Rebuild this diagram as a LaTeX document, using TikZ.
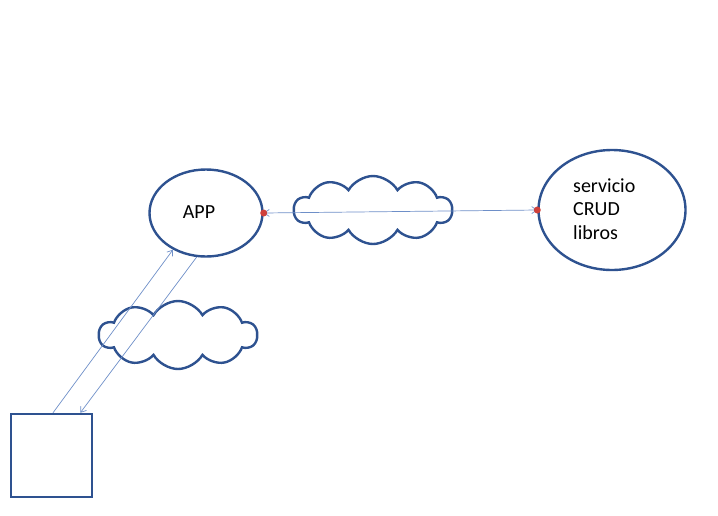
\documentclass[tikz,border=0pt]{standalone}
\usepackage{fontspec}
\setmainfont{Carlito}
\usetikzlibrary{shapes.geometric,shapes.symbols,arrows.meta}

\definecolor{shapeblue}{HTML}{2E5290}
\definecolor{linkblue}{HTML}{6E8FC8}
\definecolor{dotred}{HTML}{D0403A}

\tikzset{
  comp/.style={ellipse, draw=shapeblue, line width=2.4pt, inner sep=0pt},
  net/.style={cloud, cloud puffs=10, cloud puff arc=120, aspect=2.3,
    draw=shapeblue, line width=2.4pt, minimum width=158pt, minimum height=68pt},
  link/.style={draw=linkblue, line width=0.7pt},
  dot/.style={circle, fill=dotred, inner sep=0pt, minimum size=7pt},
}

\begin{document}
\begin{tikzpicture}[x=1pt, y=-1pt, font=\fontsize{20}{23.5}\selectfont]
  \useasboundingbox (0,0) rectangle (718,515);

  % components
  \node[comp, minimum width=113pt, minimum height=87pt] (app) at (206,213) {};
  \node (apptxt) at (199,212) {APP};
  \node[comp, minimum width=147pt, minimum height=120pt] (crud) at (612,210) {};
  \node[align=left, anchor=west, inner sep=0pt] (crudtxt) at (573,209) {servicio\\CRUD\\libros};
  \node[draw=shapeblue, line width=2.4pt, minimum width=81pt, minimum height=83pt] (client) at (51.5,455.5) {};

  % networks
  \node[net] (net1) at (373,210) {};
  \node[net] (net2) at (178,335) {};

  % links
  \draw[link, {Straight Barb[length=5pt,width=7pt]}-{Straight Barb[length=5pt,width=7pt]}] (app.east) -- (crud.west);
  \draw[link, -{Straight Barb[length=5pt,width=7pt]}] (client.88) -- (app.228);
  \draw[link, -{Straight Barb[length=5pt,width=7pt]}] (app.258) -- (client.56);

  \node[dot] (appdot) at (app.east) {};
  \node[dot] (cruddot) at (crud.west) {};
\end{tikzpicture}
\end{document}
